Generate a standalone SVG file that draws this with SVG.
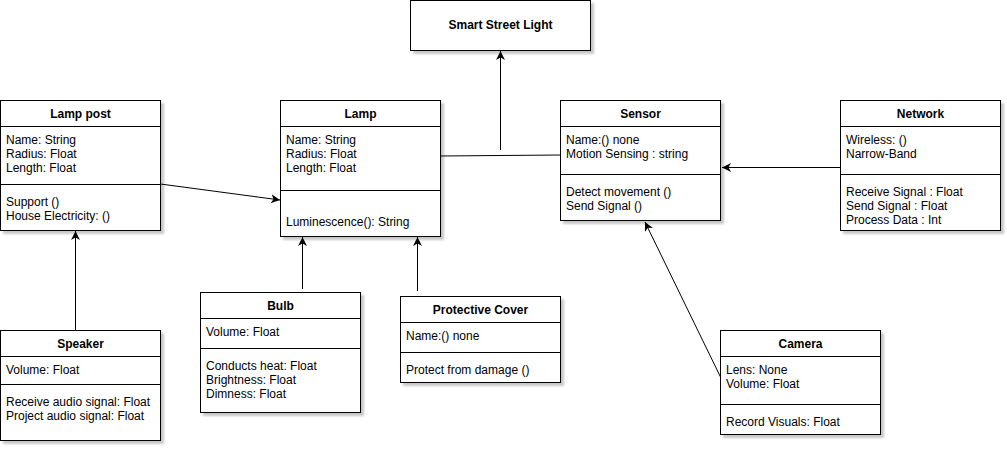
<svg xmlns="http://www.w3.org/2000/svg" width="1007" height="450" viewBox="0 0 1007 450">
<style>
  .box{fill:#fff;stroke:#000;stroke-width:1;filter:url(#sh)}
  .sep{stroke:#000;stroke-width:1;fill:none}
  .h{font-family:"Liberation Sans",Arial,sans-serif;font-size:12px;font-weight:bold;text-anchor:middle;fill:#000}
  .t{font-family:"Liberation Sans",Arial,sans-serif;font-size:12px;fill:#000}
  .c{stroke:#000;stroke-width:1;fill:none;marker-end:url(#arr)}
  .l{stroke:#000;stroke-width:1;fill:none}
</style>
<defs>
  <filter id="sh" x="-10%" y="-10%" width="130%" height="130%">
    <feDropShadow dx="3" dy="3" stdDeviation="1.2" flood-color="#000" flood-opacity="0.22"/>
  </filter>
  <marker id="arr" markerUnits="userSpaceOnUse" markerWidth="12" markerHeight="12" refX="9" refY="4.5" orient="auto">
    <path d="M0,0 L9,4.5 L0,9 L2.5,4.5 Z" fill="#000"/>
  </marker>
</defs>
<rect width="1007" height="450" fill="#fff"/>

<g id="connectors">
  <line class="c" x1="160.5" y1="184" x2="280" y2="200"/>
  <line class="l" x1="440.5" y1="156" x2="560.5" y2="155"/>
  <line class="c" x1="500.5" y1="150" x2="500.5" y2="51"/>
  <line class="c" x1="840.5" y1="167.5" x2="722" y2="167.5"/>
  <line class="c" x1="75.5" y1="330" x2="75.5" y2="231"/>
  <line class="c" x1="302.5" y1="289" x2="302.5" y2="237"/>
  <line class="c" x1="417.5" y1="291" x2="417.5" y2="237"/>
  <line class="c" x1="720.5" y1="377" x2="645" y2="222"/>
</g>

<g id="smart-street-light">
  <rect class="box" x="410.5" y="0.5" width="180" height="50"/>
  <text class="h" x="500.5" y="29">Smart Street Light</text>
</g>

<g id="lamp-post">
  <rect class="box" x="0.5" y="100.5" width="160" height="130"/>
  <line class="sep" x1="0.5" y1="126.5" x2="160.5" y2="126.5"/>
  <line class="sep" x1="0.5" y1="184.5" x2="160.5" y2="184.5"/>
  <text class="h" x="80.5" y="118">Lamp post</text>
  <text class="t" x="6" y="143.5">Name: String</text>
  <text class="t" x="6" y="157.5">Radius: Float</text>
  <text class="t" x="6" y="171.5">Length: Float</text>
  <text class="t" x="6" y="205.5">Support ()</text>
  <text class="t" x="6" y="219.5">House Electricity: ()</text>
</g>

<g id="lamp">
  <rect class="box" x="280.5" y="100.5" width="160" height="136"/>
  <line class="sep" x1="280.5" y1="126.5" x2="440.5" y2="126.5"/>
  <line class="sep" x1="280.5" y1="190.5" x2="440.5" y2="190.5"/>
  <text class="h" x="360.5" y="118">Lamp</text>
  <text class="t" x="286" y="143.5">Name: String</text>
  <text class="t" x="286" y="157.5">Radius: Float</text>
  <text class="t" x="286" y="171.5">Length: Float</text>
  <text class="t" x="286" y="225.5">Luminescence(): String</text>
</g>

<g id="sensor">
  <rect class="box" x="560.5" y="100.5" width="160" height="120"/>
  <line class="sep" x1="560.5" y1="126.5" x2="720.5" y2="126.5"/>
  <line class="sep" x1="560.5" y1="174.5" x2="720.5" y2="174.5"/>
  <text class="h" x="640.5" y="118">Sensor</text>
  <text class="t" x="566" y="143.5">Name:() none</text>
  <text class="t" x="566" y="157.5">Motion Sensing : string</text>
  <text class="t" x="566" y="195.5">Detect movement ()</text>
  <text class="t" x="566" y="209.5">Send Signal ()</text>
</g>

<g id="network">
  <rect class="box" x="840.5" y="100.5" width="160" height="130"/>
  <line class="sep" x1="840.5" y1="126.5" x2="1000.5" y2="126.5"/>
  <line class="sep" x1="840.5" y1="174.5" x2="1000.5" y2="174.5"/>
  <text class="h" x="920.5" y="118">Network</text>
  <text class="t" x="846" y="143.5">Wireless: ()</text>
  <text class="t" x="846" y="157.5">Narrow-Band</text>
  <text class="t" x="846" y="195.5">Receive Signal : Float</text>
  <text class="t" x="846" y="209.5">Send Signal : Float</text>
  <text class="t" x="846" y="223.5">Process Data : Int</text>
</g>

<g id="speaker">
  <rect class="box" x="0.5" y="330.5" width="160" height="110"/>
  <line class="sep" x1="0.5" y1="356.5" x2="160.5" y2="356.5"/>
  <line class="sep" x1="0.5" y1="384.5" x2="160.5" y2="384.5"/>
  <text class="h" x="80.5" y="348">Speaker</text>
  <text class="t" x="6" y="373.5">Volume: Float</text>
  <text class="t" x="6" y="405.5">Receive audio signal: Float</text>
  <text class="t" x="6" y="419.5">Project audio signal: Float</text>
</g>

<g id="bulb">
  <rect class="box" x="200.5" y="292.5" width="160" height="120"/>
  <line class="sep" x1="200.5" y1="318.5" x2="360.5" y2="318.5"/>
  <line class="sep" x1="200.5" y1="348.5" x2="360.5" y2="348.5"/>
  <text class="h" x="280.5" y="310">Bulb</text>
  <text class="t" x="206" y="335.5">Volume: Float</text>
  <text class="t" x="206" y="369.5">Conducts heat: Float</text>
  <text class="t" x="206" y="383.5">Brightness: Float</text>
  <text class="t" x="206" y="397.5">Dimness: Float</text>
</g>

<g id="protective-cover">
  <rect class="box" x="400.5" y="296.5" width="160" height="86"/>
  <line class="sep" x1="400.5" y1="322.5" x2="560.5" y2="322.5"/>
  <line class="sep" x1="400.5" y1="352.5" x2="560.5" y2="352.5"/>
  <text class="h" x="480.5" y="314">Protective Cover</text>
  <text class="t" x="406" y="339.5">Name:() none</text>
  <text class="t" x="406" y="373.5">Protect from damage ()</text>
</g>

<g id="camera">
  <rect class="box" x="720.5" y="330.5" width="160" height="104"/>
  <line class="sep" x1="720.5" y1="356.5" x2="880.5" y2="356.5"/>
  <line class="sep" x1="720.5" y1="404.5" x2="880.5" y2="404.5"/>
  <text class="h" x="800.5" y="348">Camera</text>
  <text class="t" x="726" y="373.5">Lens: None</text>
  <text class="t" x="726" y="387.5">Volume: Float</text>
  <text class="t" x="726" y="425.5">Record Visuals: Float</text>
</g>
</svg>
